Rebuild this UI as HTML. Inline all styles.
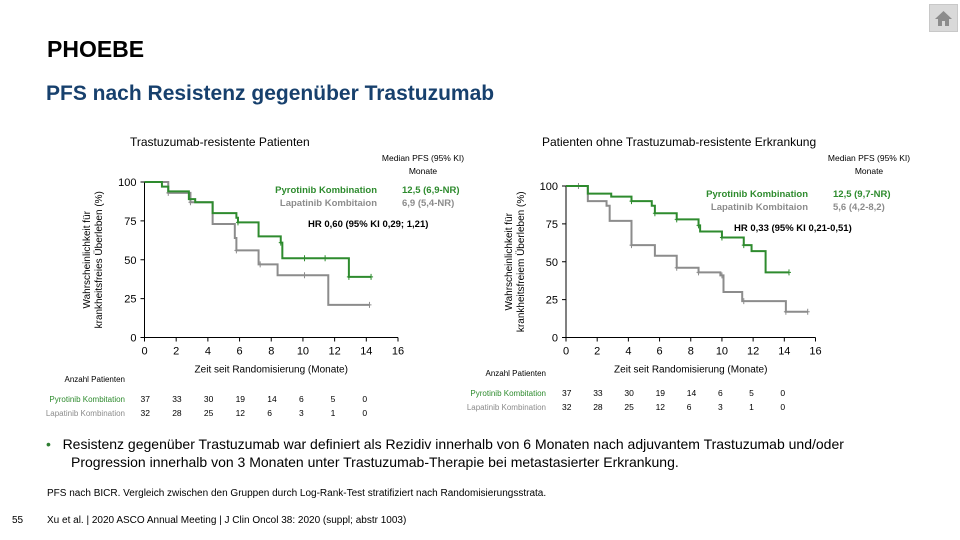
<!DOCTYPE html>
<html><head><meta charset="utf-8"><style>
body{margin:0;width:960px;height:540px;background:#fff;font-family:"Liberation Sans",Arial,sans-serif;overflow:hidden;position:relative}
.t{position:absolute;white-space:nowrap}
</style></head><body>
<div class="t" style="left:47px;top:36px;font-size:23px;font-weight:bold;color:#000">PHOEBE</div>
<div class="t" style="left:46px;top:82px;font-size:21px;font-weight:bold;color:#17406d">PFS nach Resistenz gegenüber Trastuzumab</div>
<div style="position:absolute;left:929px;top:4px;width:27px;height:26px;background:#d9d9d9;border:1px solid #c8c8c8">
<svg width="27" height="26"><polygon points="5,14 13.5,6 22,14" fill="#8c8c8c"/><rect x="8" y="13" width="11" height="8" fill="#8c8c8c"/><rect x="12" y="16" width="3" height="5" fill="#d9d9d9"/></svg></div>
<svg id="c" width="960" height="540" style="position:absolute;left:0;top:0" font-family="Liberation Sans, Arial, sans-serif"></svg>
<div class="t" style="left:46px;top:435px;font-size:14px;line-height:18px;color:#000"><span style="color:#2e7d32">•</span>&nbsp;&nbsp;&nbsp;Resistenz gegenüber Trastuzumab war definiert als Rezidiv innerhalb von 6 Monaten nach adjuvantem Trastuzumab und/oder<br><span style="padding-left:25px">Progression innerhalb von 3 Monaten unter Trastuzumab-Therapie bei metastasierter Erkrankung.</span></div>
<div class="t" style="left:47px;top:488px;font-size:10px">PFS nach BICR. Vergleich zwischen den Gruppen durch Log-Rank-Test stratifiziert nach Randomisierungsstrata.</div>
<div class="t" style="left:12px;top:515px;font-size:10px">55</div>
<div class="t" style="left:47px;top:515px;font-size:10px">Xu et al. | 2020 ASCO Annual Meeting | J Clin Oncol 38: 2020 (suppl; abstr 1003)</div>
<script>
const xTicks=[0,2,4,6,8,10,12,14,16];
const yTicks=[0,25,50,75,100];
const riskTimes=[0,2,4,6,8,10,12,14];
const riskPyro=[37,33,30,19,14,6,5,0];
const riskLap=[32,28,25,12,6,3,1,0];
const leftPyroT=[0,1.1,1.5,2.8,3.2,4.3,5.8,5.9,7.2,8.6,8.7,12.9,14.3];
const leftPyroS=[100,97,94,89,87,80,77,74,65,61,51,39,39];
const leftLapT=[0,1.5,2.9,4.3,5.7,5.8,7.2,8.4,11.6,14.2];
const leftLapS=[100,93,87,73,64,56,47,40,21,21];
const leftPyroCens=[5.9,8.6,10.1,11.4,12.9,14.3];
const leftLapCens=[1.5,2.9,5.8,7.3,10.1,14.2];
const rightPyroT=[0,1.4,2.9,4.2,5.5,5.7,7.1,8.5,8.6,10,11.4,11.9,12.8,14.3];
const rightPyroS=[100,95,93,90,87,82,78,74,70,66,61,57,43,43];
const rightLapT=[0,1.4,2.6,2.8,4.2,5.7,7.1,8.5,9.9,10.1,11.3,14.1,15.5];
const rightLapS=[100,90,87,77,61,54,46,43,41,30,24,17,17];
const rightPyroCens=[4.2,5.7,7.1,8.5,10,11.4,14.3];
const rightLapCens=[0.8,4.2,7.1,8.5,10,11.4,14.1,15.5];
const svg=document.getElementById('c');const NS='http://www.w3.org/2000/svg';
function mk(tag,at,txt){const e=document.createElementNS(NS,tag);for(const k in at)e.setAttribute(k,at[k]);if(txt!==undefined)e.textContent=txt;svg.appendChild(e);return e;}
function txt(x,y,s,opt){return mk('text',Object.assign({x:x,y:y,'font-size':10,fill:'#000'},opt||{}),s);}
function chart(cfg){
 const X=t=>cfg.x0+(cfg.x1-cfg.x0)*t/16, Y=v=>cfg.y0-(cfg.y0-cfg.y1)*v/100;
 let a=mk('line',{x1:X(0),y1:Y(0),x2:X(16),y2:Y(0),stroke:'#000','stroke-width':1});
 
 a=mk('line',{x1:X(0),y1:Y(0),x2:X(0),y2:Y(100),stroke:'#000','stroke-width':1});
 
 xTicks.forEach(t=>{mk('line',{x1:X(t),x2:X(t),y1:Y(0),y2:Y(0)+4,stroke:'#000'});
  const l=txt(X(t),Y(0)+17,t,{'text-anchor':'middle','font-size':11});});
 yTicks.forEach(v=>{mk('line',{x1:X(0)-4,x2:X(0),y1:Y(v),y2:Y(v),stroke:'#000'});
  const l=txt(X(0)-8,Y(v)+4,v,{'text-anchor':'end','font-size':11});});
 function curve(T,S,C,col,name){let d='M'+X(T[0])+','+Y(S[0]);
  for(let i=1;i<T.length;i++){d+=' H'+X(T[i])+' V'+Y(S[i]);}
  const p=mk('path',{d:d,fill:'none',stroke:col,'stroke-width':2});
  C.forEach(t=>{let s=S[0];for(let i=0;i<T.length;i++)if(T[i]<=t)s=S[i];
   const m=mk('path',{d:`M${X(t)},${Y(s)-3}v6M${X(t)-2},${Y(s)}h4`,stroke:col,'stroke-width':1});});}
 curve(cfg.lT,cfg.lS,cfg.lC,'#8c8c8c','lapatinib-curve');
 curve(cfg.pT,cfg.pS,cfg.pC,'#2e8b2e','pyrotinib-curve');
 let l=txt((X(0)+X(16))/2,Y(0)+35,'Zeit seit Randomisierung (Monate)',{'text-anchor':'middle'});
 const yt=mk('text',{transform:`translate(${cfg.ytx},${(Y(0)+Y(100))/2}) rotate(-90)`,'text-anchor':'middle','font-size':10});
 
 yt.innerHTML=`<tspan x="0" dy="-6">Wahrscheinlichkeit für</tspan><tspan x="0" dy="12">${cfg.ylab}</tspan>`;
 l=txt(cfg.tx,146,cfg.title,{'font-size':12});
 txt(cfg.mx,161,'Median PFS (95% KI)',{'text-anchor':'middle','font-size':8.5});
 txt(cfg.mx,174,'Monate',{'text-anchor':'middle','font-size':8.5});
 l=txt(cfg.lgx,Y(100)+11,'Pyrotinib Kombination',{'text-anchor':'end','fill':'#2e8b2e','font-weight':'bold','font-size':9.5});
 l=txt(cfg.lgx,Y(100)+24,'Lapatinib Kombitaion',{'text-anchor':'end','fill':'#8c8c8c','font-weight':'bold','font-size':9.5});
 txt(cfg.lgx+25,Y(100)+11,cfg.medP,{'fill':'#2e8b2e','font-weight':'bold','font-size':9.5});
 txt(cfg.lgx+25,Y(100)+24,cfg.medL,{'fill':'#8c8c8c','font-weight':'bold','font-size':9.5});
 l=txt(cfg.hrx,Y(100)+45,cfg.hr,{'font-weight':'bold','font-size':9.5});
 txt(cfg.rlx,cfg.ry-20,'Anzahl Patienten',{'text-anchor':cfg.anchor,'font-size':8});
 txt(cfg.rlx,cfg.ry,'Pyrotinib Kombitation',{'text-anchor':cfg.anchor,'font-size':8,fill:'#2e8b2e'});
 txt(cfg.rlx,cfg.ry+14,'Lapatinib Kombination',{'text-anchor':cfg.anchor,'font-size':8,fill:'#8c8c8c'});
 riskTimes.forEach((t,i)=>{l=txt(X(t)-4,cfg.ry,riskPyro[i],{'font-size':8.5});
  l=txt(X(t)-4,cfg.ry+14,riskLap[i],{'font-size':8.5});});
}
chart({x0:144.5,x1:398,y0:337.5,y1:182,pT:leftPyroT,pS:leftPyroS,pC:leftPyroCens,lT:leftLapT,lS:leftLapS,lC:leftLapCens,
 ytx:96,ylab:'krankheitsfreies Überleben (%)',tx:130,title:'Trastuzumab-resistente Patienten',mx:423,lgx:377,medP:'12,5 (6,9-NR)',medL:'6,9 (5,4-NR)',
 hrx:308,hr:'HR 0,60 (95% KI 0,29; 1,21)',rlx:125,ry:402,anchor:'end'});
chart({x0:566,x1:815.5,y0:337.5,y1:186,pT:rightPyroT,pS:rightPyroS,pC:rightPyroCens,lT:rightLapT,lS:rightLapS,lC:rightLapCens,
 ytx:518,ylab:'krankheitsfreiem Überleben (%)',tx:542,title:'Patienten ohne Trastuzumab-resistente Erkrankung',mx:869,lgx:808,medP:'12,5 (9,7-NR)',medL:'5,6 (4,2-8,2)',
 hrx:734,hr:'HR 0,33 (95% KI 0,21-0,51)',rlx:546,ry:396,anchor:'end'});
</script>
</body></html>
